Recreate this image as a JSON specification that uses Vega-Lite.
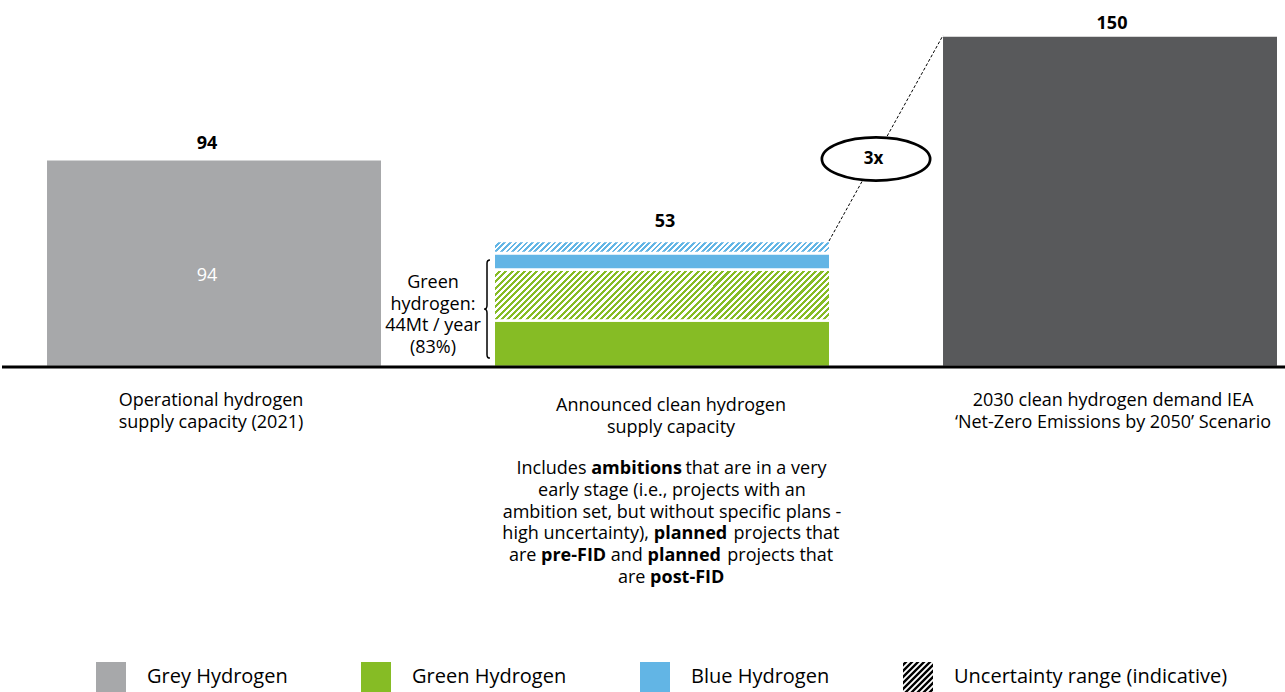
{
"$schema":"https://vega.github.io/schema/vega-lite/v6.json",
"width":1285,"height":367,"padding":0,"autosize":{"type":"pad"},
"background":"#ffffff",
"config":{"view":{"stroke":null},"text":{"font":"Open Sans","fontSize":18,"color":"#000000"}},
"datasets":{
"bars":[{"cat":"c1","type":"Grey Hydrogen","start":0,"end":94},{"cat":"c2","type":"Green Hydrogen","start":0,"end":21},{"cat":"c2","type":"Blue Hydrogen","start":44,"end":51.5}],
"uncertainty":[{"cat":"c2","type":"Green Hydrogen","start":21,"end":44},{"cat":"c2","type":"Blue Hydrogen","start":51.5,"end":57}],
"demand":[{"cat":"c3","start":0,"end":150}],
"totals":[{"cat":"c1","label":"94","top":94},{"cat":"c2","label":"53","top":57},{"cat":"c3","label":"150","top":150}],
"legendItems":[{"type":"Grey Hydrogen"},{"type":"Green Hydrogen"},{"type":"Blue Hydrogen"},{"type":"Uncertainty range (indicative)"}],
"categories":[{"cat":"c1","label":"Operational hydrogen\nsupply capacity (2021)"},{"cat":"c2","label":"Announced clean hydrogen\nsupply capacity"},{"cat":"c3","label":"2030 clean hydrogen demand IEA\n‘Net-Zero Emissions by 2050’ Scenario"}]
},
"layer":[
{"data":{"name":"bars"},"transform":[{"filter":"datum.type === 'Grey Hydrogen'"}],"mark":{"type":"bar","color":"#a7a8aa","stroke":"#ffffff","strokeWidth":2.6},
"encoding":{
"x":{"field":"cat","type":"nominal","scale":{"domain":["c1","c2","c3"],"paddingInner":0.2487,"paddingOuter":0.0585,"align":0.834},"axis":null},
"y":{"field":"end","type":"quantitative","scale":{"domain":[0,166],"nice":false,"zero":true},"axis":null},
"y2":{"field":"start"}
}},
{"data":{"name":"bars"},"transform":[{"filter":"datum.type === 'Green Hydrogen'"}],"mark":{"type":"bar","color":"#86bc25","stroke":"#ffffff","strokeWidth":2.6},
"encoding":{"x":{"field":"cat","type":"nominal"},"y":{"field":"end","type":"quantitative"},"y2":{"field":"start"}}},
{"data":{"name":"bars"},"transform":[{"filter":"datum.type === 'Blue Hydrogen'"}],"mark":{"type":"bar","color":"#62b5e5","stroke":"#ffffff","strokeWidth":2.6},
"encoding":{"x":{"field":"cat","type":"nominal"},"y":{"field":"end","type":"quantitative"},"y2":{"field":"start"}}},
{"data":{"name":"legendItems"},"mark":{"type":"point","filled":true,"opacity":0},
"encoding":{
"x":{"datum":"c2","type":"nominal"},
"y":{"datum":0,"type":"quantitative"},
"color":{"field":"type","type":"nominal","scale":{"domain":["Grey Hydrogen","Green Hydrogen","Blue Hydrogen","Uncertainty range (indicative)"],"range":["#a7a8aa","#86bc25","#62b5e5","#000000"]},"legend":{"orient":"none","legendX":94,"legendY":662,"direction":"horizontal","title":null,"symbolSize":900,"symbolStrokeWidth":0,"symbolOpacity":1,"labelFont":"Open Sans","labelFontSize":20,"labelColor":"#000000","labelOffset":21,"columnPadding":73,"labelLimit":500,"padding":0}},
"shape":{"field":"type","type":"nominal","scale":{"domain":["Grey Hydrogen","Green Hydrogen","Blue Hydrogen","Uncertainty range (indicative)"],"range":["square","square","square","M-1 -0.91L-0.91 -1L-0.69 -1L-1 -0.69Z M-1 -0.51L-0.51 -1L-0.29 -1L-1 -0.29Z M-1 -0.11L-0.11 -1L0.11 -1L-1 0.11Z M-1 0.29L0.29 -1L0.51 -1L-1 0.51Z M-1 0.69L0.69 -1L0.91 -1L-1 0.91Z M-0.91 1L1 -0.91L1 -0.69L-0.69 1Z M-0.51 1L1 -0.51L1 -0.29L-0.29 1Z M-0.11 1L1 -0.11L1 0.11L0.11 1Z M0.29 1L1 0.29L1 0.51L0.51 1Z M0.69 1L1 0.69L1 0.91L0.91 1Z"]},"legend":{"orient":"none","legendX":94,"legendY":662,"direction":"horizontal","title":null,"symbolSize":900,"symbolStrokeWidth":0,"symbolOpacity":1,"labelFont":"Open Sans","labelFontSize":20,"labelColor":"#000000","labelOffset":21,"columnPadding":73,"labelLimit":500,"padding":0}}
}},
{"data":{"name":"uncertainty"},"transform":[{"filter":"datum.type === 'Green Hydrogen'"}],
"mark":{"type":"bar","stroke":"#ffffff","strokeWidth":2.6,"fill":{"gradient":"linear","x1":0,"y1":0,"x2":1.1254,"y2":0.17,"stops":[
{"offset":0,"color":"#86bc25"},
{"offset":0.008,"color":"#86bc25"},{"offset":0.008,"color":"#fff"},{"offset":0.016,"color":"#fff"},{"offset":0.016,"color":"#86bc25"},
{"offset":0.024,"color":"#86bc25"},{"offset":0.024,"color":"#fff"},{"offset":0.032,"color":"#fff"},{"offset":0.032,"color":"#86bc25"},
{"offset":0.04,"color":"#86bc25"},{"offset":0.04,"color":"#fff"},{"offset":0.048,"color":"#fff"},{"offset":0.048,"color":"#86bc25"},
{"offset":0.056,"color":"#86bc25"},{"offset":0.056,"color":"#fff"},{"offset":0.064,"color":"#fff"},{"offset":0.064,"color":"#86bc25"},
{"offset":0.072,"color":"#86bc25"},{"offset":0.072,"color":"#fff"},{"offset":0.08,"color":"#fff"},{"offset":0.08,"color":"#86bc25"},
{"offset":0.088,"color":"#86bc25"},{"offset":0.088,"color":"#fff"},{"offset":0.096,"color":"#fff"},{"offset":0.096,"color":"#86bc25"},
{"offset":0.104,"color":"#86bc25"},{"offset":0.104,"color":"#fff"},{"offset":0.112,"color":"#fff"},{"offset":0.112,"color":"#86bc25"},
{"offset":0.12,"color":"#86bc25"},{"offset":0.12,"color":"#fff"},{"offset":0.128,"color":"#fff"},{"offset":0.128,"color":"#86bc25"},
{"offset":0.136,"color":"#86bc25"},{"offset":0.136,"color":"#fff"},{"offset":0.144,"color":"#fff"},{"offset":0.144,"color":"#86bc25"},
{"offset":0.152,"color":"#86bc25"},{"offset":0.152,"color":"#fff"},{"offset":0.16,"color":"#fff"},{"offset":0.16,"color":"#86bc25"},
{"offset":0.168,"color":"#86bc25"},{"offset":0.168,"color":"#fff"},{"offset":0.176,"color":"#fff"},{"offset":0.176,"color":"#86bc25"},
{"offset":0.184,"color":"#86bc25"},{"offset":0.184,"color":"#fff"},{"offset":0.192,"color":"#fff"},{"offset":0.192,"color":"#86bc25"},
{"offset":0.2,"color":"#86bc25"},{"offset":0.2,"color":"#fff"},{"offset":0.208,"color":"#fff"},{"offset":0.208,"color":"#86bc25"},
{"offset":0.216,"color":"#86bc25"},{"offset":0.216,"color":"#fff"},{"offset":0.224,"color":"#fff"},{"offset":0.224,"color":"#86bc25"},
{"offset":0.232,"color":"#86bc25"},{"offset":0.232,"color":"#fff"},{"offset":0.24,"color":"#fff"},{"offset":0.24,"color":"#86bc25"},
{"offset":0.248,"color":"#86bc25"},{"offset":0.248,"color":"#fff"},{"offset":0.256,"color":"#fff"},{"offset":0.256,"color":"#86bc25"},
{"offset":0.264,"color":"#86bc25"},{"offset":0.264,"color":"#fff"},{"offset":0.272,"color":"#fff"},{"offset":0.272,"color":"#86bc25"},
{"offset":0.28,"color":"#86bc25"},{"offset":0.28,"color":"#fff"},{"offset":0.288,"color":"#fff"},{"offset":0.288,"color":"#86bc25"},
{"offset":0.296,"color":"#86bc25"},{"offset":0.296,"color":"#fff"},{"offset":0.304,"color":"#fff"},{"offset":0.304,"color":"#86bc25"},
{"offset":0.312,"color":"#86bc25"},{"offset":0.312,"color":"#fff"},{"offset":0.32,"color":"#fff"},{"offset":0.32,"color":"#86bc25"},
{"offset":0.328,"color":"#86bc25"},{"offset":0.328,"color":"#fff"},{"offset":0.336,"color":"#fff"},{"offset":0.336,"color":"#86bc25"},
{"offset":0.344,"color":"#86bc25"},{"offset":0.344,"color":"#fff"},{"offset":0.352,"color":"#fff"},{"offset":0.352,"color":"#86bc25"},
{"offset":0.36,"color":"#86bc25"},{"offset":0.36,"color":"#fff"},{"offset":0.368,"color":"#fff"},{"offset":0.368,"color":"#86bc25"},
{"offset":0.376,"color":"#86bc25"},{"offset":0.376,"color":"#fff"},{"offset":0.384,"color":"#fff"},{"offset":0.384,"color":"#86bc25"},
{"offset":0.392,"color":"#86bc25"},{"offset":0.392,"color":"#fff"},{"offset":0.4,"color":"#fff"},{"offset":0.4,"color":"#86bc25"},
{"offset":0.408,"color":"#86bc25"},{"offset":0.408,"color":"#fff"},{"offset":0.416,"color":"#fff"},{"offset":0.416,"color":"#86bc25"},
{"offset":0.424,"color":"#86bc25"},{"offset":0.424,"color":"#fff"},{"offset":0.432,"color":"#fff"},{"offset":0.432,"color":"#86bc25"},
{"offset":0.44,"color":"#86bc25"},{"offset":0.44,"color":"#fff"},{"offset":0.448,"color":"#fff"},{"offset":0.448,"color":"#86bc25"},
{"offset":0.456,"color":"#86bc25"},{"offset":0.456,"color":"#fff"},{"offset":0.464,"color":"#fff"},{"offset":0.464,"color":"#86bc25"},
{"offset":0.472,"color":"#86bc25"},{"offset":0.472,"color":"#fff"},{"offset":0.48,"color":"#fff"},{"offset":0.48,"color":"#86bc25"},
{"offset":0.488,"color":"#86bc25"},{"offset":0.488,"color":"#fff"},{"offset":0.496,"color":"#fff"},{"offset":0.496,"color":"#86bc25"},
{"offset":0.504,"color":"#86bc25"},{"offset":0.504,"color":"#fff"},{"offset":0.512,"color":"#fff"},{"offset":0.512,"color":"#86bc25"},
{"offset":0.52,"color":"#86bc25"},{"offset":0.52,"color":"#fff"},{"offset":0.528,"color":"#fff"},{"offset":0.528,"color":"#86bc25"},
{"offset":0.536,"color":"#86bc25"},{"offset":0.536,"color":"#fff"},{"offset":0.544,"color":"#fff"},{"offset":0.544,"color":"#86bc25"},
{"offset":0.552,"color":"#86bc25"},{"offset":0.552,"color":"#fff"},{"offset":0.56,"color":"#fff"},{"offset":0.56,"color":"#86bc25"},
{"offset":0.568,"color":"#86bc25"},{"offset":0.568,"color":"#fff"},{"offset":0.576,"color":"#fff"},{"offset":0.576,"color":"#86bc25"},
{"offset":0.584,"color":"#86bc25"},{"offset":0.584,"color":"#fff"},{"offset":0.592,"color":"#fff"},{"offset":0.592,"color":"#86bc25"},
{"offset":0.6,"color":"#86bc25"},{"offset":0.6,"color":"#fff"},{"offset":0.608,"color":"#fff"},{"offset":0.608,"color":"#86bc25"},
{"offset":0.616,"color":"#86bc25"},{"offset":0.616,"color":"#fff"},{"offset":0.624,"color":"#fff"},{"offset":0.624,"color":"#86bc25"},
{"offset":0.632,"color":"#86bc25"},{"offset":0.632,"color":"#fff"},{"offset":0.64,"color":"#fff"},{"offset":0.64,"color":"#86bc25"},
{"offset":0.648,"color":"#86bc25"},{"offset":0.648,"color":"#fff"},{"offset":0.656,"color":"#fff"},{"offset":0.656,"color":"#86bc25"},
{"offset":0.664,"color":"#86bc25"},{"offset":0.664,"color":"#fff"},{"offset":0.672,"color":"#fff"},{"offset":0.672,"color":"#86bc25"},
{"offset":0.68,"color":"#86bc25"},{"offset":0.68,"color":"#fff"},{"offset":0.688,"color":"#fff"},{"offset":0.688,"color":"#86bc25"},
{"offset":0.696,"color":"#86bc25"},{"offset":0.696,"color":"#fff"},{"offset":0.704,"color":"#fff"},{"offset":0.704,"color":"#86bc25"},
{"offset":0.712,"color":"#86bc25"},{"offset":0.712,"color":"#fff"},{"offset":0.72,"color":"#fff"},{"offset":0.72,"color":"#86bc25"},
{"offset":0.728,"color":"#86bc25"},{"offset":0.728,"color":"#fff"},{"offset":0.736,"color":"#fff"},{"offset":0.736,"color":"#86bc25"},
{"offset":0.744,"color":"#86bc25"},{"offset":0.744,"color":"#fff"},{"offset":0.752,"color":"#fff"},{"offset":0.752,"color":"#86bc25"},
{"offset":0.76,"color":"#86bc25"},{"offset":0.76,"color":"#fff"},{"offset":0.768,"color":"#fff"},{"offset":0.768,"color":"#86bc25"},
{"offset":0.776,"color":"#86bc25"},{"offset":0.776,"color":"#fff"},{"offset":0.784,"color":"#fff"},{"offset":0.784,"color":"#86bc25"},
{"offset":0.792,"color":"#86bc25"},{"offset":0.792,"color":"#fff"},{"offset":0.8,"color":"#fff"},{"offset":0.8,"color":"#86bc25"},
{"offset":0.808,"color":"#86bc25"},{"offset":0.808,"color":"#fff"},{"offset":0.816,"color":"#fff"},{"offset":0.816,"color":"#86bc25"},
{"offset":0.824,"color":"#86bc25"},{"offset":0.824,"color":"#fff"},{"offset":0.832,"color":"#fff"},{"offset":0.832,"color":"#86bc25"},
{"offset":0.84,"color":"#86bc25"},{"offset":0.84,"color":"#fff"},{"offset":0.848,"color":"#fff"},{"offset":0.848,"color":"#86bc25"},
{"offset":0.856,"color":"#86bc25"},{"offset":0.856,"color":"#fff"},{"offset":0.864,"color":"#fff"},{"offset":0.864,"color":"#86bc25"},
{"offset":0.872,"color":"#86bc25"},{"offset":0.872,"color":"#fff"},{"offset":0.88,"color":"#fff"},{"offset":0.88,"color":"#86bc25"},
{"offset":0.888,"color":"#86bc25"},{"offset":0.888,"color":"#fff"},{"offset":0.896,"color":"#fff"},{"offset":0.896,"color":"#86bc25"},
{"offset":0.904,"color":"#86bc25"},{"offset":0.904,"color":"#fff"},{"offset":0.912,"color":"#fff"},{"offset":0.912,"color":"#86bc25"},
{"offset":0.92,"color":"#86bc25"},{"offset":0.92,"color":"#fff"},{"offset":0.928,"color":"#fff"},{"offset":0.928,"color":"#86bc25"},
{"offset":0.936,"color":"#86bc25"},{"offset":0.936,"color":"#fff"},{"offset":0.944,"color":"#fff"},{"offset":0.944,"color":"#86bc25"},
{"offset":0.952,"color":"#86bc25"},{"offset":0.952,"color":"#fff"},{"offset":0.96,"color":"#fff"},{"offset":0.96,"color":"#86bc25"},
{"offset":0.968,"color":"#86bc25"},{"offset":0.968,"color":"#fff"},{"offset":0.976,"color":"#fff"},{"offset":0.976,"color":"#86bc25"},
{"offset":0.984,"color":"#86bc25"},{"offset":0.984,"color":"#fff"},{"offset":0.992,"color":"#fff"},{"offset":0.992,"color":"#86bc25"},
{"offset":1,"color":"#86bc25"}]}},
"encoding":{"x":{"field":"cat","type":"nominal"},"y":{"field":"end","type":"quantitative"},"y2":{"field":"start"}}},
{"data":{"name":"uncertainty"},"transform":[{"filter":"datum.type === 'Blue Hydrogen'"}],
"mark":{"type":"bar","stroke":"#ffffff","strokeWidth":2.6,"fill":{"gradient":"linear","x1":0,"y1":0,"x2":1.0348,"y2":0.0374,"stops":[
{"offset":0,"color":"#62b5e5"},
{"offset":0.008,"color":"#62b5e5"},{"offset":0.008,"color":"#fff"},{"offset":0.016,"color":"#fff"},{"offset":0.016,"color":"#62b5e5"},
{"offset":0.024,"color":"#62b5e5"},{"offset":0.024,"color":"#fff"},{"offset":0.032,"color":"#fff"},{"offset":0.032,"color":"#62b5e5"},
{"offset":0.04,"color":"#62b5e5"},{"offset":0.04,"color":"#fff"},{"offset":0.048,"color":"#fff"},{"offset":0.048,"color":"#62b5e5"},
{"offset":0.056,"color":"#62b5e5"},{"offset":0.056,"color":"#fff"},{"offset":0.064,"color":"#fff"},{"offset":0.064,"color":"#62b5e5"},
{"offset":0.072,"color":"#62b5e5"},{"offset":0.072,"color":"#fff"},{"offset":0.08,"color":"#fff"},{"offset":0.08,"color":"#62b5e5"},
{"offset":0.088,"color":"#62b5e5"},{"offset":0.088,"color":"#fff"},{"offset":0.096,"color":"#fff"},{"offset":0.096,"color":"#62b5e5"},
{"offset":0.104,"color":"#62b5e5"},{"offset":0.104,"color":"#fff"},{"offset":0.112,"color":"#fff"},{"offset":0.112,"color":"#62b5e5"},
{"offset":0.12,"color":"#62b5e5"},{"offset":0.12,"color":"#fff"},{"offset":0.128,"color":"#fff"},{"offset":0.128,"color":"#62b5e5"},
{"offset":0.136,"color":"#62b5e5"},{"offset":0.136,"color":"#fff"},{"offset":0.144,"color":"#fff"},{"offset":0.144,"color":"#62b5e5"},
{"offset":0.152,"color":"#62b5e5"},{"offset":0.152,"color":"#fff"},{"offset":0.16,"color":"#fff"},{"offset":0.16,"color":"#62b5e5"},
{"offset":0.168,"color":"#62b5e5"},{"offset":0.168,"color":"#fff"},{"offset":0.176,"color":"#fff"},{"offset":0.176,"color":"#62b5e5"},
{"offset":0.184,"color":"#62b5e5"},{"offset":0.184,"color":"#fff"},{"offset":0.192,"color":"#fff"},{"offset":0.192,"color":"#62b5e5"},
{"offset":0.2,"color":"#62b5e5"},{"offset":0.2,"color":"#fff"},{"offset":0.208,"color":"#fff"},{"offset":0.208,"color":"#62b5e5"},
{"offset":0.216,"color":"#62b5e5"},{"offset":0.216,"color":"#fff"},{"offset":0.224,"color":"#fff"},{"offset":0.224,"color":"#62b5e5"},
{"offset":0.232,"color":"#62b5e5"},{"offset":0.232,"color":"#fff"},{"offset":0.24,"color":"#fff"},{"offset":0.24,"color":"#62b5e5"},
{"offset":0.248,"color":"#62b5e5"},{"offset":0.248,"color":"#fff"},{"offset":0.256,"color":"#fff"},{"offset":0.256,"color":"#62b5e5"},
{"offset":0.264,"color":"#62b5e5"},{"offset":0.264,"color":"#fff"},{"offset":0.272,"color":"#fff"},{"offset":0.272,"color":"#62b5e5"},
{"offset":0.28,"color":"#62b5e5"},{"offset":0.28,"color":"#fff"},{"offset":0.288,"color":"#fff"},{"offset":0.288,"color":"#62b5e5"},
{"offset":0.296,"color":"#62b5e5"},{"offset":0.296,"color":"#fff"},{"offset":0.304,"color":"#fff"},{"offset":0.304,"color":"#62b5e5"},
{"offset":0.312,"color":"#62b5e5"},{"offset":0.312,"color":"#fff"},{"offset":0.32,"color":"#fff"},{"offset":0.32,"color":"#62b5e5"},
{"offset":0.328,"color":"#62b5e5"},{"offset":0.328,"color":"#fff"},{"offset":0.336,"color":"#fff"},{"offset":0.336,"color":"#62b5e5"},
{"offset":0.344,"color":"#62b5e5"},{"offset":0.344,"color":"#fff"},{"offset":0.352,"color":"#fff"},{"offset":0.352,"color":"#62b5e5"},
{"offset":0.36,"color":"#62b5e5"},{"offset":0.36,"color":"#fff"},{"offset":0.368,"color":"#fff"},{"offset":0.368,"color":"#62b5e5"},
{"offset":0.376,"color":"#62b5e5"},{"offset":0.376,"color":"#fff"},{"offset":0.384,"color":"#fff"},{"offset":0.384,"color":"#62b5e5"},
{"offset":0.392,"color":"#62b5e5"},{"offset":0.392,"color":"#fff"},{"offset":0.4,"color":"#fff"},{"offset":0.4,"color":"#62b5e5"},
{"offset":0.408,"color":"#62b5e5"},{"offset":0.408,"color":"#fff"},{"offset":0.416,"color":"#fff"},{"offset":0.416,"color":"#62b5e5"},
{"offset":0.424,"color":"#62b5e5"},{"offset":0.424,"color":"#fff"},{"offset":0.432,"color":"#fff"},{"offset":0.432,"color":"#62b5e5"},
{"offset":0.44,"color":"#62b5e5"},{"offset":0.44,"color":"#fff"},{"offset":0.448,"color":"#fff"},{"offset":0.448,"color":"#62b5e5"},
{"offset":0.456,"color":"#62b5e5"},{"offset":0.456,"color":"#fff"},{"offset":0.464,"color":"#fff"},{"offset":0.464,"color":"#62b5e5"},
{"offset":0.472,"color":"#62b5e5"},{"offset":0.472,"color":"#fff"},{"offset":0.48,"color":"#fff"},{"offset":0.48,"color":"#62b5e5"},
{"offset":0.488,"color":"#62b5e5"},{"offset":0.488,"color":"#fff"},{"offset":0.496,"color":"#fff"},{"offset":0.496,"color":"#62b5e5"},
{"offset":0.504,"color":"#62b5e5"},{"offset":0.504,"color":"#fff"},{"offset":0.512,"color":"#fff"},{"offset":0.512,"color":"#62b5e5"},
{"offset":0.52,"color":"#62b5e5"},{"offset":0.52,"color":"#fff"},{"offset":0.528,"color":"#fff"},{"offset":0.528,"color":"#62b5e5"},
{"offset":0.536,"color":"#62b5e5"},{"offset":0.536,"color":"#fff"},{"offset":0.544,"color":"#fff"},{"offset":0.544,"color":"#62b5e5"},
{"offset":0.552,"color":"#62b5e5"},{"offset":0.552,"color":"#fff"},{"offset":0.56,"color":"#fff"},{"offset":0.56,"color":"#62b5e5"},
{"offset":0.568,"color":"#62b5e5"},{"offset":0.568,"color":"#fff"},{"offset":0.576,"color":"#fff"},{"offset":0.576,"color":"#62b5e5"},
{"offset":0.584,"color":"#62b5e5"},{"offset":0.584,"color":"#fff"},{"offset":0.592,"color":"#fff"},{"offset":0.592,"color":"#62b5e5"},
{"offset":0.6,"color":"#62b5e5"},{"offset":0.6,"color":"#fff"},{"offset":0.608,"color":"#fff"},{"offset":0.608,"color":"#62b5e5"},
{"offset":0.616,"color":"#62b5e5"},{"offset":0.616,"color":"#fff"},{"offset":0.624,"color":"#fff"},{"offset":0.624,"color":"#62b5e5"},
{"offset":0.632,"color":"#62b5e5"},{"offset":0.632,"color":"#fff"},{"offset":0.64,"color":"#fff"},{"offset":0.64,"color":"#62b5e5"},
{"offset":0.648,"color":"#62b5e5"},{"offset":0.648,"color":"#fff"},{"offset":0.656,"color":"#fff"},{"offset":0.656,"color":"#62b5e5"},
{"offset":0.664,"color":"#62b5e5"},{"offset":0.664,"color":"#fff"},{"offset":0.672,"color":"#fff"},{"offset":0.672,"color":"#62b5e5"},
{"offset":0.68,"color":"#62b5e5"},{"offset":0.68,"color":"#fff"},{"offset":0.688,"color":"#fff"},{"offset":0.688,"color":"#62b5e5"},
{"offset":0.696,"color":"#62b5e5"},{"offset":0.696,"color":"#fff"},{"offset":0.704,"color":"#fff"},{"offset":0.704,"color":"#62b5e5"},
{"offset":0.712,"color":"#62b5e5"},{"offset":0.712,"color":"#fff"},{"offset":0.72,"color":"#fff"},{"offset":0.72,"color":"#62b5e5"},
{"offset":0.728,"color":"#62b5e5"},{"offset":0.728,"color":"#fff"},{"offset":0.736,"color":"#fff"},{"offset":0.736,"color":"#62b5e5"},
{"offset":0.744,"color":"#62b5e5"},{"offset":0.744,"color":"#fff"},{"offset":0.752,"color":"#fff"},{"offset":0.752,"color":"#62b5e5"},
{"offset":0.76,"color":"#62b5e5"},{"offset":0.76,"color":"#fff"},{"offset":0.768,"color":"#fff"},{"offset":0.768,"color":"#62b5e5"},
{"offset":0.776,"color":"#62b5e5"},{"offset":0.776,"color":"#fff"},{"offset":0.784,"color":"#fff"},{"offset":0.784,"color":"#62b5e5"},
{"offset":0.792,"color":"#62b5e5"},{"offset":0.792,"color":"#fff"},{"offset":0.8,"color":"#fff"},{"offset":0.8,"color":"#62b5e5"},
{"offset":0.808,"color":"#62b5e5"},{"offset":0.808,"color":"#fff"},{"offset":0.816,"color":"#fff"},{"offset":0.816,"color":"#62b5e5"},
{"offset":0.824,"color":"#62b5e5"},{"offset":0.824,"color":"#fff"},{"offset":0.832,"color":"#fff"},{"offset":0.832,"color":"#62b5e5"},
{"offset":0.84,"color":"#62b5e5"},{"offset":0.84,"color":"#fff"},{"offset":0.848,"color":"#fff"},{"offset":0.848,"color":"#62b5e5"},
{"offset":0.856,"color":"#62b5e5"},{"offset":0.856,"color":"#fff"},{"offset":0.864,"color":"#fff"},{"offset":0.864,"color":"#62b5e5"},
{"offset":0.872,"color":"#62b5e5"},{"offset":0.872,"color":"#fff"},{"offset":0.88,"color":"#fff"},{"offset":0.88,"color":"#62b5e5"},
{"offset":0.888,"color":"#62b5e5"},{"offset":0.888,"color":"#fff"},{"offset":0.896,"color":"#fff"},{"offset":0.896,"color":"#62b5e5"},
{"offset":0.904,"color":"#62b5e5"},{"offset":0.904,"color":"#fff"},{"offset":0.912,"color":"#fff"},{"offset":0.912,"color":"#62b5e5"},
{"offset":0.92,"color":"#62b5e5"},{"offset":0.92,"color":"#fff"},{"offset":0.928,"color":"#fff"},{"offset":0.928,"color":"#62b5e5"},
{"offset":0.936,"color":"#62b5e5"},{"offset":0.936,"color":"#fff"},{"offset":0.944,"color":"#fff"},{"offset":0.944,"color":"#62b5e5"},
{"offset":0.952,"color":"#62b5e5"},{"offset":0.952,"color":"#fff"},{"offset":0.96,"color":"#fff"},{"offset":0.96,"color":"#62b5e5"},
{"offset":0.968,"color":"#62b5e5"},{"offset":0.968,"color":"#fff"},{"offset":0.976,"color":"#fff"},{"offset":0.976,"color":"#62b5e5"},
{"offset":0.984,"color":"#62b5e5"},{"offset":0.984,"color":"#fff"},{"offset":0.992,"color":"#fff"},{"offset":0.992,"color":"#62b5e5"},
{"offset":1,"color":"#62b5e5"}]}},
"encoding":{"x":{"field":"cat","type":"nominal"},"y":{"field":"end","type":"quantitative"},"y2":{"field":"start"}}},
{"data":{"name":"demand"},"mark":{"type":"bar","color":"#58595b","stroke":"#ffffff","strokeWidth":2.6},
"encoding":{"x":{"field":"cat","type":"nominal"},"y":{"field":"end","type":"quantitative"},"y2":{"field":"start"}}},
{"data":{"values":[{"baseline":0}]},"mark":{"type":"rule","color":"#000000","strokeWidth":3,"xOffset":9},
"encoding":{"y":{"field":"baseline","type":"quantitative"}}},
{"data":{"values":[{"from":"c2","to":"c3","low":57,"high":150}]},"mark":{"type":"rule","color":"#000000","strokeWidth":1,"strokeDash":[3,2],"xOffset":167,"x2Offset":-167},
"encoding":{"x":{"field":"from","type":"nominal"},"x2":{"field":"to"},"y":{"field":"low","type":"quantitative"},"y2":{"field":"high"}}},
{"data":{"values":[{"label":"3x","at":94.1}]},"mark":{"type":"point","shape":"M -1 0 C -1 -0.2209 -0.5523 -0.4 0 -0.4 C 0.5523 -0.4 1 -0.2209 1 0 C 1 0.2209 0.5523 0.4 0 0.4 C -0.5523 0.4 -1 0.2209 -1 0 Z","size":11730,"filled":true,"fill":"#ffffff","stroke":"#000000","strokeWidth":2.7,"opacity":1,"xOffset":214},
"encoding":{"x":{"datum":"c2","type":"nominal"},"y":{"field":"at","type":"quantitative"}}},
{"data":{"values":[{"label":"3x","at":94.1}]},"mark":{"type":"text","fontWeight":"bold","fontSize":17,"baseline":"middle","dx":211.5,"dy":0},
"encoding":{"x":{"datum":"c2","type":"nominal"},"y":{"field":"at","type":"quantitative"},"text":{"field":"label"}}},
{"data":{"values":[{"at":26.2}]},"mark":{"type":"point","shape":"M 0.06 -1 C 0.02 -1 0 -0.98 0 -0.93 L 0 -0.08 C 0 -0.03 -0.03 0 -0.06 0 C -0.03 0 0 0.03 0 0.08 L 0 0.93 C 0 0.98 0.02 1 0.06 1","size":9604,"filled":false,"color":"#000000","strokeWidth":1.5,"opacity":1,"xOffset":-175},
"encoding":{"x":{"datum":"c2","type":"nominal"},"y":{"field":"at","type":"quantitative"}}},
{"data":{"values":[{"note":"Green\nhydrogen:\n44Mt / year\n(83%)"}]},"mark":{"type":"text","fontSize":18,"lineBreak":"\n","lineHeight":21.6,"align":"center","dx":-229,"dy":-84},
"encoding":{"x":{"datum":"c2","type":"nominal"},"y":{"datum":0,"type":"quantitative"},"text":{"field":"note"}}},
{"data":{"name":"totals"},"transform":[{"filter":"datum.cat === 'c1'"}],"mark":{"type":"text","fontWeight":"bold","dx":-7,"dy":-15},
"encoding":{"x":{"field":"cat","type":"nominal"},"y":{"field":"top","type":"quantitative"},"text":{"field":"label"}}},
{"data":{"name":"totals"},"transform":[{"filter":"datum.cat === 'c2'"}],"mark":{"type":"text","fontWeight":"bold","dx":3,"dy":-19},
"encoding":{"x":{"field":"cat","type":"nominal"},"y":{"field":"top","type":"quantitative"},"text":{"field":"label"}}},
{"data":{"name":"totals"},"transform":[{"filter":"datum.cat === 'c3'"}],"mark":{"type":"text","fontWeight":"bold","dx":2,"dy":-11},
"encoding":{"x":{"field":"cat","type":"nominal"},"y":{"field":"top","type":"quantitative"},"text":{"field":"label"}}},
{"data":{"name":"bars"},"transform":[{"filter":"datum.type === 'Grey Hydrogen'"}],"mark":{"type":"text","color":"#ffffff","dx":-7,"dy":-91},
"encoding":{"x":{"field":"cat","type":"nominal"},"y":{"datum":0,"type":"quantitative"},"text":{"field":"end","type":"quantitative"}}},
{"data":{"name":"categories"},"transform":[{"filter":"datum.cat === 'c1'"}],"mark":{"type":"text","lineBreak":"\n","lineHeight":22,"dx":-3,"dy":34},
"encoding":{"x":{"field":"cat","type":"nominal"},"y":{"datum":0,"type":"quantitative"},"text":{"field":"label"}}},
{"data":{"name":"categories"},"transform":[{"filter":"datum.cat === 'c2'"}],"mark":{"type":"text","lineBreak":"\n","lineHeight":22,"dx":9,"dy":39},
"encoding":{"x":{"field":"cat","type":"nominal"},"y":{"datum":0,"type":"quantitative"},"text":{"field":"label"}}},
{"data":{"name":"categories"},"transform":[{"filter":"datum.cat === 'c3'"}],"mark":{"type":"text","lineBreak":"\n","lineHeight":22,"dx":3,"dy":34},
"encoding":{"x":{"field":"cat","type":"nominal"},"y":{"datum":0,"type":"quantitative"},"text":{"field":"label"}}},
{"data":{"values":[{"t":"Includes"}]},"mark":{"type":"text","align":"right","dx":-75.5,"dy":102},"encoding":{"x":{"datum":"c2","type":"nominal"},"y":{"datum":0,"type":"quantitative"},"text":{"field":"t"}}},
{"data":{"values":[{"t":"ambitions"}]},"mark":{"type":"text","align":"left","fontWeight":"bold","dx":-70.8,"dy":102},"encoding":{"x":{"datum":"c2","type":"nominal"},"y":{"datum":0,"type":"quantitative"},"text":{"field":"t"}}},
{"data":{"values":[{"t":"that are in a very"}]},"mark":{"type":"text","align":"left","dx":23.4,"dy":102},"encoding":{"x":{"datum":"c2","type":"nominal"},"y":{"datum":0,"type":"quantitative"},"text":{"field":"t"}}},
{"data":{"values":[{"t":"early stage (i.e., projects with an\nambition set, but without specific plans -"}]},"mark":{"type":"text","align":"center","lineBreak":"\n","lineHeight":21.8,"dx":10,"dy":123.8},"encoding":{"x":{"datum":"c2","type":"nominal"},"y":{"datum":0,"type":"quantitative"},"text":{"field":"t"}}},
{"data":{"values":[{"t":"high uncertainty),"}]},"mark":{"type":"text","align":"right","dx":-13,"dy":167.4},"encoding":{"x":{"datum":"c2","type":"nominal"},"y":{"datum":0,"type":"quantitative"},"text":{"field":"t"}}},
{"data":{"values":[{"t":"planned"}]},"mark":{"type":"text","align":"left","fontWeight":"bold","dx":-8.25,"dy":167.4},"encoding":{"x":{"datum":"c2","type":"nominal"},"y":{"datum":0,"type":"quantitative"},"text":{"field":"t"}}},
{"data":{"values":[{"t":"projects that"}]},"mark":{"type":"text","align":"left","dx":71.5,"dy":167.4},"encoding":{"x":{"datum":"c2","type":"nominal"},"y":{"datum":0,"type":"quantitative"},"text":{"field":"t"}}},
{"data":{"values":[{"t":"are"}]},"mark":{"type":"text","align":"right","dx":-125.6,"dy":189.2},"encoding":{"x":{"datum":"c2","type":"nominal"},"y":{"datum":0,"type":"quantitative"},"text":{"field":"t"}}},
{"data":{"values":[{"t":"pre-FID"}]},"mark":{"type":"text","align":"left","fontWeight":"bold","dx":-121,"dy":189.2},"encoding":{"x":{"datum":"c2","type":"nominal"},"y":{"datum":0,"type":"quantitative"},"text":{"field":"t"}}},
{"data":{"values":[{"t":"and"}]},"mark":{"type":"text","align":"left","dx":-51.25,"dy":189.2},"encoding":{"x":{"datum":"c2","type":"nominal"},"y":{"datum":0,"type":"quantitative"},"text":{"field":"t"}}},
{"data":{"values":[{"t":"planned"}]},"mark":{"type":"text","align":"left","fontWeight":"bold","dx":-14.5,"dy":189.2},"encoding":{"x":{"datum":"c2","type":"nominal"},"y":{"datum":0,"type":"quantitative"},"text":{"field":"t"}}},
{"data":{"values":[{"t":"projects that"}]},"mark":{"type":"text","align":"left","dx":65.25,"dy":189.2},"encoding":{"x":{"datum":"c2","type":"nominal"},"y":{"datum":0,"type":"quantitative"},"text":{"field":"t"}}},
{"data":{"values":[{"t":"are"}]},"mark":{"type":"text","align":"right","dx":-16.6,"dy":211},"encoding":{"x":{"datum":"c2","type":"nominal"},"y":{"datum":0,"type":"quantitative"},"text":{"field":"t"}}},
{"data":{"values":[{"t":"post-FID"}]},"mark":{"type":"text","align":"left","fontWeight":"bold","dx":-11.9,"dy":211},"encoding":{"x":{"datum":"c2","type":"nominal"},"y":{"datum":0,"type":"quantitative"},"text":{"field":"t"}}}
]
}
